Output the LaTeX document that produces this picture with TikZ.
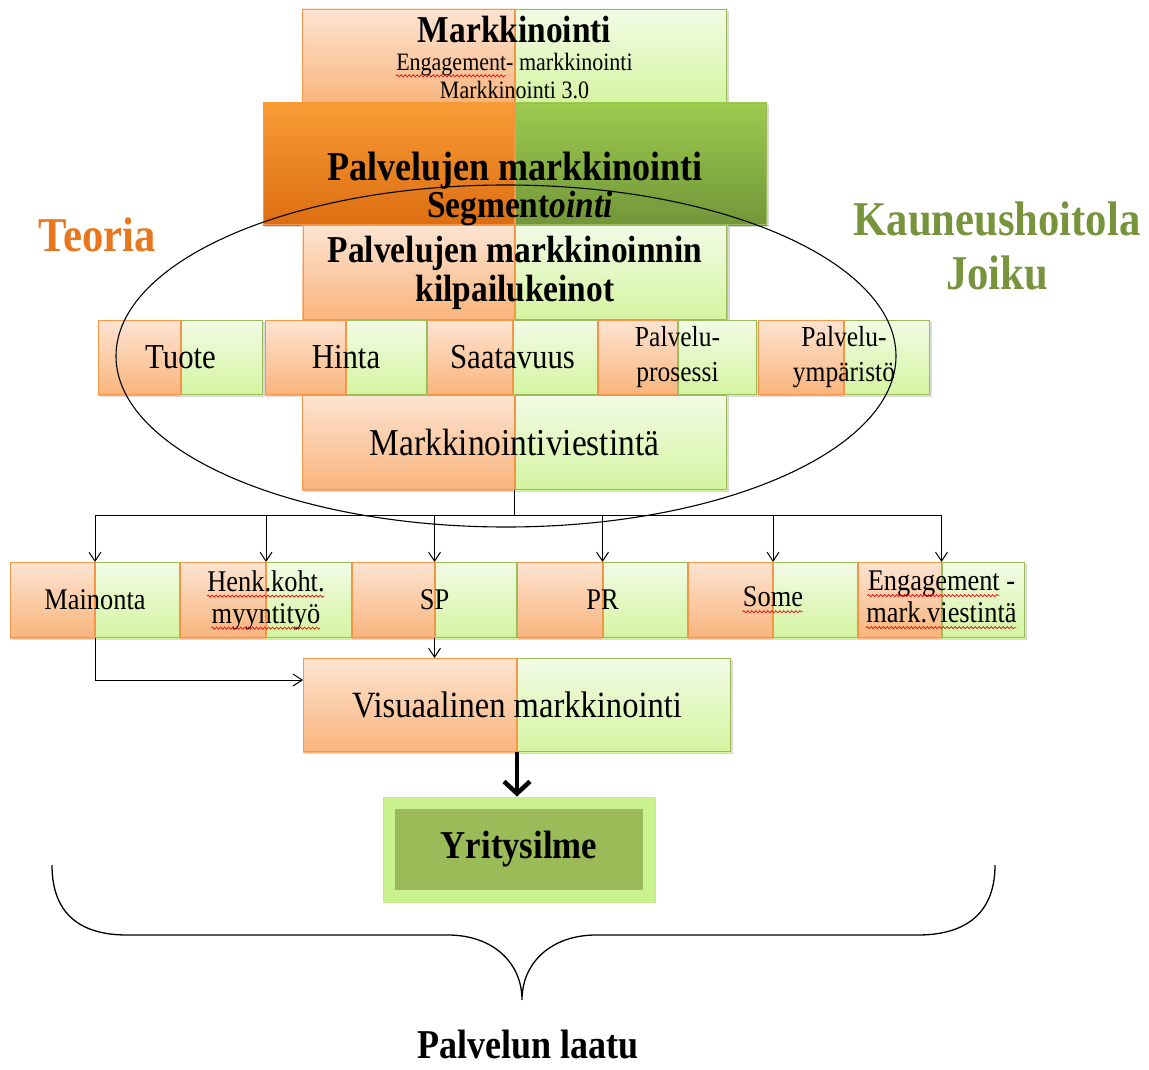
\documentclass[tikz,border=0pt]{standalone}
\usepackage{fontspec}
\setmainfont{Liberation Serif}[FakeStretch=0.88]
\usepackage{tikz}
\usetikzlibrary{positioning,shadows,arrows.meta,decorations.pathmorphing}
\usepackage{xcolor}

\definecolor{orlight}{HTML}{FDE4D2}
\definecolor{ordark}{HTML}{F9B47C}
\definecolor{orline}{HTML}{F79646}
\definecolor{grlight}{HTML}{F2FBE6}
\definecolor{grdark}{HTML}{D4F4A0}
\definecolor{grline}{HTML}{9BBB59}
\definecolor{ortop}{HTML}{F99B35}
\definecolor{orbot}{HTML}{DC6E12}
\definecolor{grtop}{HTML}{9CCB4F}
\definecolor{grbot}{HTML}{72963A}
\definecolor{teoria}{HTML}{E8761C}
\definecolor{joiku}{HTML}{77933C}
\definecolor{bevel}{HTML}{C9F28F}

\newsavebox\spellbox
\newcommand{\spell}[1]{\sbox\spellbox{#1}\usebox\spellbox\llap{\tikz[baseline=0pt, x=1pt, y=1pt]\draw[red, line width=0.7pt, decorate, decoration={snake, amplitude=1.1pt, segment length=4pt}] (0,-5) -- (\wd\spellbox,-5);}}

\begin{document}
\begin{tikzpicture}[x=1pt, y=-1pt,
    splitfill/.style n args={4}{path picture={
        \fill[top color=#1, bottom color=#2] (path picture bounding box.north west) rectangle (path picture bounding box.south);
        \fill[top color=#3, bottom color=#4] (path picture bounding box.north) rectangle (path picture bounding box.south east);
        \draw[grline, line width=1.4pt] ([shift={(0.7pt,-0.7pt)}]path picture bounding box.north) rectangle ([shift={(-0.7pt,0.7pt)}]path picture bounding box.south east);
        \draw[orline, line width=1.4pt] ([shift={(0.7pt,-0.7pt)}]path picture bounding box.north west) rectangle ([yshift=0.7pt]path picture bounding box.south);
      }},
    box/.style={rectangle, inner sep=0pt, outer sep=0pt, align=center, fill=white,
      drop shadow={shadow xshift=2pt, shadow yshift=-2pt, opacity=0.3}},
    duo/.style={box, splitfill={orlight}{ordark}{grlight}{grdark}},
    duodark/.style={box, splitfill={ortop}{orbot}{grtop}{grbot}},
    yritbox/.style={rectangle, inner sep=0pt, fill=bevel, draw=bevel!85!grline, line width=1pt,
      path picture={\fill[grline] ([shift={(12pt,-12pt)}]path picture bounding box.north west) rectangle ([shift={(-12pt,12pt)}]path picture bounding box.south east);}},
    lbl/.style={font=\fontsize{35}{38}\selectfont},
    small/.style={font=\fontsize{29}{35}\selectfont},
    low/.style={font=\fontsize{30}{32}\selectfont},
    arrow/.style={-{Straight Barb[length=9pt,width=12pt]}, line width=1pt},
    bigarrow/.style={-{Straight Barb[length=12pt,width=26pt]}, line width=4.5pt}
  ]
    \useasboundingbox (0,0) rectangle (1149,1070);

    \node[duo, minimum width=425pt, minimum height=94pt, font=\fontsize{25}{28}\selectfont, text height=90pt] (mark) at (514.5,57)
      {{\fontsize{38}{38}\selectfont\bfseries Markkinointi}\\\spell{Engagement}- markkinointi\\\spell{Markkinointi} 3.0};
    \node[duodark, minimum width=504pt, minimum height=122pt, font=\fontsize{41}{44}\selectfont\bfseries, text height=42pt] (pm) at (515,164) {Palvelujen markkinointi};
    \node[duo, below=0pt of pm, minimum width=425pt, minimum height=95pt, font=\fontsize{38}{39}\selectfont\bfseries] (kk) {Palvelujen markkinoinnin\\kilpailukeinot};

    \node[duo, lbl, minimum width=165pt, minimum height=75pt] (tuote) at (180.5,357.5) {Tuote};
    \node[duo, lbl, minimum width=162pt, minimum height=75pt, right=2pt of tuote] (hinta) {Hinta};
    \node[duo, lbl, minimum width=171pt, minimum height=75pt, right=0pt of hinta] (saat) {Saatavuus};
    \node[duo, small, minimum width=159pt, minimum height=75pt, right=0pt of saat] (prosessi) {Palvelu-\\prosessi};
    \node[duo, small, minimum width=172pt, minimum height=75pt, right=1pt of prosessi] (ymparisto) {Palvelu-\\ympäristö};

    \node[duo, minimum width=425pt, minimum height=95pt, font=\fontsize{38}{40}\selectfont] (mv) at (514.5,442.5) {Markkinointiviestintä};

    \node[duo, low, minimum width=170pt, minimum height=76pt] (main) at (95,600) {Mainonta};
    \node[duo, low, minimum width=172pt, minimum height=76pt, right=0pt of main] (henk) {\spell{Henk.koht.}\\\spell{myyntityö}};
    \node[duo, low, minimum width=165pt, minimum height=76pt, right=0pt of henk] (sp) {SP};
    \node[duo, low, minimum width=171pt, minimum height=76pt, right=0pt of sp] (pr) {PR};
    \node[duo, low, minimum width=170pt, minimum height=76pt, right=0pt of pr] (some) {\spell{Some}};
    \node[duo, low, minimum width=167pt, minimum height=76pt, right=0pt of some] (eng) {\spell{Engagement} -\\\spell{mark.viestintä}};

    \node[duo, minimum width=428pt, minimum height=94pt, font=\fontsize{37}{40}\selectfont] (vis) at (517,705) {Visuaalinen markkinointi};
    \node[yritbox, minimum width=272pt, minimum height=105pt, font=\fontsize{39.5}{40}\selectfont\bfseries] (yrit) at (519,849.5) {Yritysilme};

    \draw[line width=1.1pt] (506,356) ellipse [x radius=390, y radius=171];
    \node[font=\fontsize{38}{38}\selectfont\bfseries] (seg) at (520,209) {Segment\textit{ointi}};

    \node[font=\fontsize{48.5}{50}\selectfont\bfseries, text=teoria] (teoria) at (97,235) {Teoria};
    \node[font=\fontsize{48.5}{54}\selectfont\bfseries, text=joiku, align=center] (joiku) at (997,246) {Kauneushoitola\\Joiku};

    \coordinate[yshift=-25pt] (bus) at (mv.south);
    \draw[line width=1pt] (mv.south) -- (bus);
    \foreach \t in {main,henk,sp,pr,some,eng}
      \draw[arrow] (bus) -| (\t.north);
    \draw[arrow] (main.south) |- ([yshift=25pt]vis.west);
    \draw[arrow] (sp.south) -- (sp.south |- vis.north);
    \draw[bigarrow] (vis.south) -- (vis.south |- yrit.north);

    \draw[line width=1.3pt] (52,865) .. controls (52,918) and (85,935) .. (127,935) -- (448,935)
      .. controls (492,935) and (522,962) .. (522,1000) .. controls (522,962) and (552,935) .. (596,935)
      -- (918,935) .. controls (960,935) and (995,918) .. (995,865);
    \node[font=\fontsize{41}{44}\selectfont\bfseries, inner sep=0pt] (laatu) at (528,1045) {Palvelun laatu};
  \end{tikzpicture}
\end{document}
